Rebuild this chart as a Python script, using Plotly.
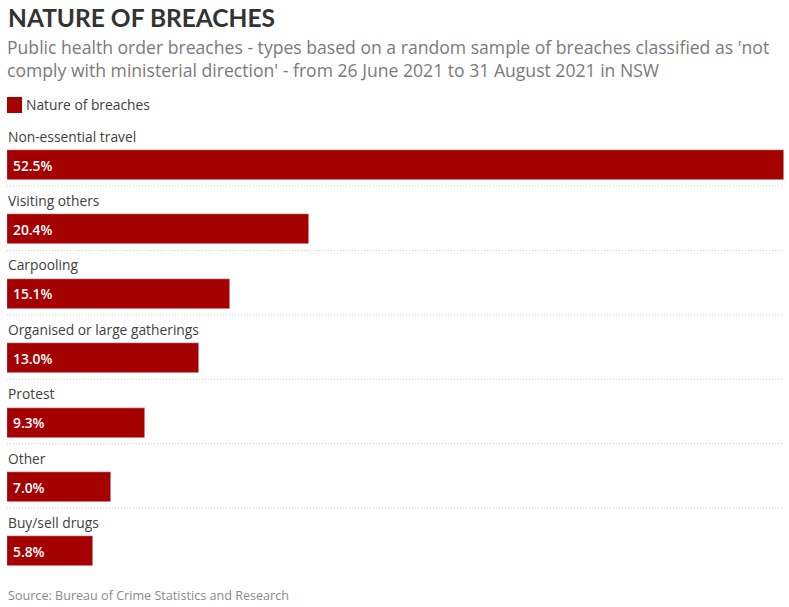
import plotly.graph_objects as go

categories = ["Non-essential travel", "Visiting others", "Carpooling",
              "Organised or large gatherings", "Protest", "Other", "Buy/sell drugs"]
values = [52.5, 20.4, 15.1, 13.0, 9.3, 7.0, 5.8]
series_name = "Nature of breaches"

title = "NATURE OF BREACHES"
subtitle_lines = ["Public health order breaches - types based on a random sample of breaches classified as 'not",
                  "comply with ministerial direction' - from 26 June 2021 to 31 August 2021 in NSW"]
source = "Source: Bureau of Crime Statistics and Research"

BAR = "#a40000"
FONT = "'Open Sans', sans-serif"
TFONT = "Lato, sans-serif"
W, H = 789, 607
T, B = 120, 575  # plot area pixels
PH = B - T

def py(p):
    return (B - p) / PH

pos = list(range(len(categories)))

fig = go.Figure()
fig.add_trace(go.Bar(
    x=values, y=pos, orientation="h", marker_color=BAR, width=0.466,
    showlegend=False, hoverinfo="skip"
))

ann = []
shapes = []
for i, (c, v) in enumerate(zip(categories, values)):
    ann.append(dict(x=0, y=i - 0.45, xref="x", yref="y", text=c, showarrow=False,
                    xanchor="left", yanchor="middle", xshift=-1,
                    font=dict(size=13.8, color="#404040", family=FONT)))
    ann.append(dict(x=0, y=i, xref="x", yref="y", text=f"{v:.1f}%", showarrow=False, xshift=4,
                    xanchor="left", yanchor="middle",
                    font=dict(size=13.8, color="white", family=FONT, weight=600)))
    if i < len(categories) - 1:
        shapes.append(dict(type="line", xref="paper", yref="y", x0=0, x1=1, y0=i + 0.326, y1=i + 0.326,
                           line=dict(color="#cfcfcf", width=1, dash="1px,2px")))

ann.append(dict(x=0, y=py(18), xref="paper", yref="paper", text=f"<b>{title}</b>", showarrow=False,
                xanchor="left", yanchor="middle", xshift=-1, font=dict(size=24.5, color="#333333", family=TFONT)))
ann.append(dict(x=0, y=py(58.5), xref="paper", yref="paper", text="<br>".join(subtitle_lines),
                showarrow=False, xanchor="left", yanchor="middle", align="left", xshift=-1, borderpad=0,
                font=dict(size=17.6, color="#7a7a7a", family=FONT)))
ann.append(dict(x=15 / 777, y=py(105), xref="paper", yref="paper", text=series_name, showarrow=False,
                xanchor="left", yanchor="middle", xshift=2, font=dict(size=13.8, color="#404040", family=FONT)))
ann.append(dict(x=0, y=py(595), xref="paper", yref="paper", text=source, showarrow=False,
                xanchor="left", yanchor="middle", xshift=-1, font=dict(size=12.6, color="#8a8a8a", family=FONT)))
shapes.append(dict(type="rect", xref="paper", yref="paper", x0=0, x1=15 / 777, y0=py(113), y1=py(97),
                   fillcolor=BAR, line=dict(width=0)))

fig.update_layout(
    width=W, height=H, margin=dict(l=7, r=5, t=T, b=H - B),
    paper_bgcolor="white", plot_bgcolor="white",
    xaxis=dict(range=[0, 52.5], visible=False, fixedrange=True),
    yaxis=dict(range=[6.366, -0.699], visible=False, fixedrange=True),
    annotations=ann, shapes=shapes, bargap=0, font=dict(family=FONT)
)

fig.write_html("out.html")
